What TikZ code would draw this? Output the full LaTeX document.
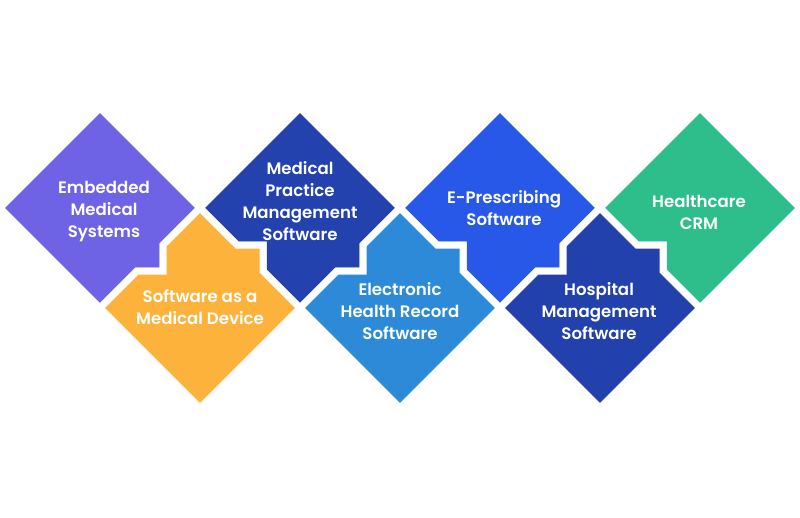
\documentclass[tikz,border=0pt]{standalone}
\usepackage{fontspec}
\setmainfont{Poppins}[BoldFont={Poppins SemiBold}]
\definecolor{cpurple}{HTML}{6E62E5}
\definecolor{corange}{HTML}{FDB33B}
\definecolor{cmp}{HTML}{2342AE}
\definecolor{cep}{HTML}{2758E7}
\definecolor{cgreen}{HTML}{2EBE8C}
\definecolor{cehr}{HTML}{2D8AD8}
\definecolor{chosp}{HTML}{2241AC}
\tikzset{
  piece/.style={draw=white, line width=7pt, line join=miter},
  lbl/.style={text=white, font=\bfseries\fontsize{16.6}{22}\selectfont, align=center, inner sep=0pt}
}
\begin{document}
\begin{tikzpicture}[x=1pt,y=-1pt]
\useasboundingbox (0,0) rectangle (800,517);
\fill[white] (0,0) rectangle (800,517);
% top row
\path[piece, fill=cpurple, shift={(100,208)}]
  (0,-100) -- (100,0) -- (63,37) -- (63,63) -- (37,63) -- (0,100) -- (-100,0) -- cycle;
\path[piece, fill=cmp, shift={(300,208)}]
  (0,-100) -- (100,0) -- (63,37) -- (63,63) -- (37,63) -- (0,100) -- (-37,63) -- (-37,37) -- (-63,37) -- (-100,0) -- cycle;
\path[piece, fill=cep, shift={(500,208)}]
  (0,-100) -- (100,0) -- (63,37) -- (63,63) -- (37,63) -- (0,100) -- (-37,63) -- (-37,37) -- (-63,37) -- (-100,0) -- cycle;
\path[piece, fill=cgreen, shift={(700,208)}]
  (0,-100) -- (100,0) -- (0,100) -- (-37,63) -- (-37,37) -- (-63,37) -- (-100,0) -- cycle;
% bottom row
\path[piece, fill=corange, shift={(200,308)}]
  (0,-100) -- (37,-63) -- (63,-63) -- (63,-37) -- (100,0) -- (0,100) -- (-100,0) -- (-63,-37) -- (-37,-37) -- (-37,-63) -- cycle;
\path[piece, fill=cehr, shift={(400,308)}]
  (0,-100) -- (37,-63) -- (63,-63) -- (63,-37) -- (100,0) -- (0,100) -- (-100,0) -- (-63,-37) -- (-37,-37) -- (-37,-63) -- cycle;
\path[piece, fill=chosp, shift={(600,308)}]
  (0,-100) -- (37,-63) -- (63,-63) -- (63,-37) -- (100,0) -- (0,100) -- (-100,0) -- (-63,-37) -- (-37,-37) -- (-37,-63) -- cycle;
% labels
\node[lbl] (emb) at (104,212) {Embedded\\Medical\\Systems};
\node[lbl] (mp) at (300,201) {Medical\\Practice\\Management\\Software};
\node[lbl] (ep) at (504,208) {E-Prescribing\\Software};
\node[lbl] (crm) at (699,212) {Healthcare\\CRM};
\node[lbl] (samd) at (200,307) {Software as a\\Medical Device};
\node[lbl] (ehr) at (400,311) {Electronic\\Health Record\\Software};
\node[lbl] (hms) at (599,311) {Hospital\\Management\\Software};
\end{tikzpicture}
\end{document}
